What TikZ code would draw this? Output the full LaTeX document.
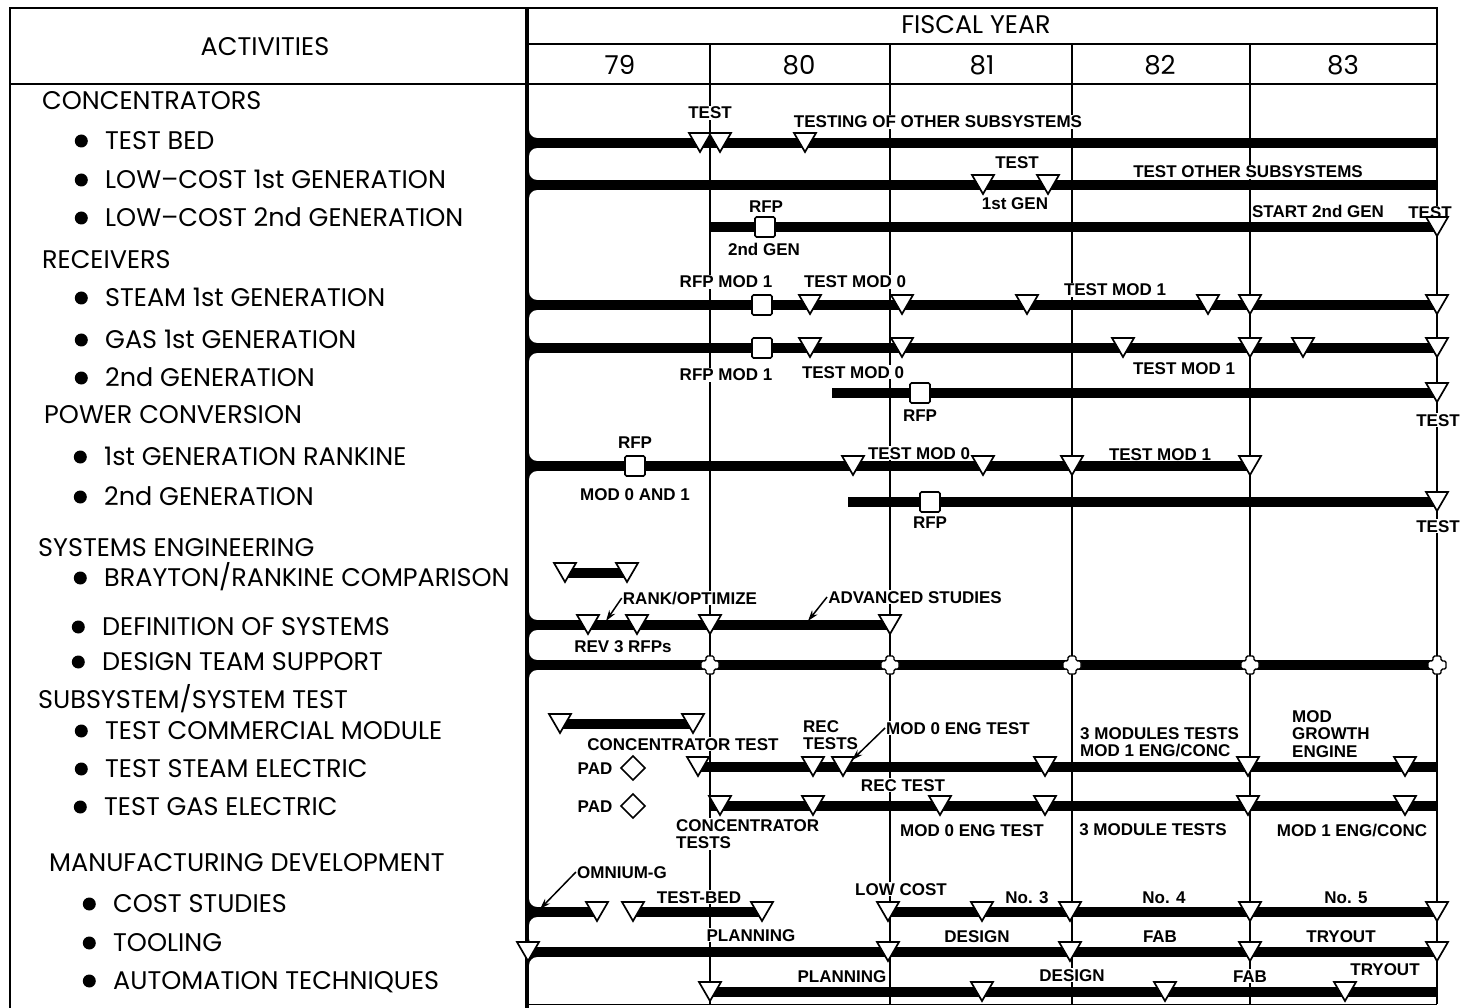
\documentclass[tikz,border=0pt]{standalone}
\usepackage{fontspec}
\setmainfont{Poppins}
\newfontfamily\lblfont{Liberation Sans}
\usepackage{tikz}
\usetikzlibrary{arrows.meta}

\begin{document}
\begin{tikzpicture}[x=1pt, y=-1pt,
      frame/.style={line width=1.4pt},
      spine/.style={line width=4pt},
      yearline/.style={line width=1.1pt},
      bar/.style={line width=10pt},
      head/.style={inner sep=0pt, font=\fontsize{25.5}{28}\selectfont},
      grp/.style={anchor=west, inner sep=0pt, text height=17.5pt, text depth=0pt,
                  font=\fontsize{25.5}{28}\selectfont},
      item/.style={grp,
                   label={[circle, fill, inner sep=0pt, minimum size=13pt, xshift=-17pt]left:{}}},
      lbl/.style={inner sep=1pt, fill=white, text height=12pt, text depth=0pt,
                  font=\lblfont\bfseries\fontsize{17}{18}\selectfont},
      mlbl/.style={inner sep=1pt, fill=white, anchor=west, align=left,
                   font=\lblfont\bfseries\fontsize{17}{17.5}\selectfont},
      arr/.style={-{Stealth[length=11pt, width=7pt]}, line width=1.5pt},
      tri/.pic={\filldraw[fill=white, line width=1.7pt] (-11,-10) -- (11,-10) -- (0,9) -- cycle;},
      sq/.pic={\filldraw[fill=white, line width=1.7pt, rounded corners=1.5pt] (-10,-10) rectangle (10,10);},
      dia/.pic={\draw[line width=1.6pt] (-12,0) -- (0,-12) -- (12,0) -- (0,12) -- cycle;},
      plusmk/.pic={\filldraw[fill=white, line width=1.4pt, rounded corners=1.5pt]
                   (-4,-9) -- (4,-9) -- (4,-4) -- (9,-4) -- (9,4) -- (4,4) -- (4,9)
                   -- (-4,9) -- (-4,4) -- (-9,4) -- (-9,-4) -- (-4,-4) -- cycle;},
      jn/.pic={\fill (0,-5) -- (0,-13) .. controls (0,-8.6) and (3.6,-5) .. (8,-5) -- cycle;
               \fill (0,5) -- (0,13) .. controls (0,8.6) and (3.6,5) .. (8,5) -- cycle;},
    ]
    \useasboundingbox (0,0) rectangle (1462,1008);

    \draw[frame] (10,1008) -- (10,8) -- (1437,8) -- (1437,1004);
    \draw[frame] (10,84) -- (1437,84);
    \draw[frame] (527,44) -- (1437,44);
    \draw[frame, line width=0.8pt] (527,1004) -- (1437,1004);
    \draw[yearline] (710,44) -- (710,1004);
    \draw[yearline] (890,44) -- (890,1004);
    \draw[yearline] (1072,44) -- (1072,1004);
    \draw[yearline] (1250,44) -- (1250,1004);
    \draw[spine] (527,8) -- (527,1008);

    \node[head] (activities) at (265,47)  {ACTIVITIES};
    \node[head] (fiscal)     at (976,25)  {FISCAL YEAR};
    \node[head, font=\fontsize{26}{28}\selectfont] (fy79) at (620,65)  {79};
    \node[head, font=\fontsize{26}{28}\selectfont] (fy80) at (799,65)  {80};
    \node[head, font=\fontsize{26}{28}\selectfont] (fy81) at (982,65)  {81};
    \node[head, font=\fontsize{26}{28}\selectfont] (fy82) at (1160,65) {82};
    \node[head, font=\fontsize{26}{28}\selectfont] (fy83) at (1343,65) {83};

    \node[grp]  (conc)      at (42,101)  {CONCENTRATORS};
    \node[item] (conc-bed)  at (105,141) {TEST BED};
    \node[item] (conc-lc1)  at (105,180) {LOW--COST 1st GENERATION};
    \node[item] (conc-lc2)  at (105,218) {LOW--COST 2nd GENERATION};
    \node[grp]  (rcv)       at (42,260)  {RECEIVERS};
    \node[item] (rcv-steam) at (105,298) {STEAM 1st GENERATION};
    \node[item] (rcv-gas)   at (105,340) {GAS 1st GENERATION};
    \node[item] (rcv-gen2)  at (105,378) {2nd GENERATION};
    \node[grp]  (pwr)       at (44,415)  {POWER CONVERSION};
    \node[item] (pwr-rank)  at (104,457) {1st GENERATION RANKINE};
    \node[item] (pwr-gen2)  at (104,497) {2nd GENERATION};
    \node[grp]  (sys)       at (38,548)  {SYSTEMS ENGINEERING};
    \node[item] (sys-cmp)   at (104,578) {BRAYTON/RANKINE COMPARISON};
    \node[item] (sys-def)   at (102,627) {DEFINITION OF SYSTEMS};
    \node[item] (sys-team)  at (102,662) {DESIGN TEAM SUPPORT};
    \node[grp]  (tst)       at (38,700)  {SUBSYSTEM/SYSTEM TEST};
    \node[item] (tst-mod)   at (105,731) {TEST COMMERCIAL MODULE};
    \node[item] (tst-steam) at (105,769) {TEST STEAM ELECTRIC};
    \node[item] (tst-gas)   at (104,807) {TEST GAS ELECTRIC};
    \node[grp]  (mfg)       at (49,863)  {MANUFACTURING DEVELOPMENT};
    \node[item] (mfg-cost)  at (113,904) {COST STUDIES};
    \node[item] (mfg-tool)  at (113,943) {TOOLING};
    \node[item] (mfg-auto)  at (113,981) {AUTOMATION TECHNIQUES};

    \node[lbl] (bed-test)   at (710,113)  {TEST};
    \node[lbl] (bed-other)  at (938,122)  {TESTING OF OTHER SUBSYSTEMS};
    \node[lbl] (lc1-test)   at (1017,163) {TEST};
    \node[lbl] (lc1-gen)    at (1015,204) {1st GEN};
    \node[lbl] (lc1-other)  at (1248,172) {TEST OTHER SUBSYSTEMS};
    \node[lbl] (lc2-rfp)    at (766,207)  {RFP};
    \node[lbl] (lc2-gen)    at (764,250)  {2nd GEN};
    \node[lbl] (lc2-start)  at (1318,212) {START 2nd GEN};
    \node[lbl] (lc2-test)   at (1430,213) {TEST};
    \node[lbl] (stm-rfp)    at (726,282)  {RFP MOD 1};
    \node[lbl] (stm-mod0)   at (855,282)  {TEST MOD 0};
    \node[lbl] (stm-mod1)   at (1115,290) {TEST MOD 1};
    \node[lbl] (gas-rfp)    at (726,375)  {RFP MOD 1};
    \node[lbl] (gas-mod0)   at (853,372)  {TEST MOD 0};
    \node[lbl] (gas-mod1)   at (1184,368) {TEST MOD 1};
    \node[lbl] (rg2-rfp)    at (920,415)  {RFP};
    \node[lbl] (rg2-test)   at (1438,420) {TEST};
    \node[lbl] (rnk-rfp)    at (635,442)  {RFP};
    \node[lbl] (rnk-mods)   at (635,494)  {MOD 0 AND 1};
    \node[lbl] (rnk-mod0)   at (919,453)  {TEST MOD 0};
    \node[lbl] (rnk-mod1)   at (1160,454) {TEST MOD 1};
    \node[lbl] (pg2-rfp)    at (930,522)  {RFP};
    \node[lbl] (pg2-test)   at (1438,526) {TEST};
    \node[lbl] (def-rank)   at (690,598)  {RANK/OPTIMIZE};
    \node[lbl] (def-adv)    at (915,597)  {ADVANCED STUDIES};
    \node[lbl] (def-rev)    at (623,646)  {REV 3 RFPs};
    \node[lbl] (com-conc)   at (683,744)  {CONCENTRATOR TEST};
    \node[mlbl] (stm-rec)   at (802,735)  {REC\\TESTS};
    \node[lbl] (stm-eng)    at (958,728)  {MOD 0 ENG TEST};
    \node[mlbl] (stm-three) at (1079,742) {3 MODULES TESTS\\MOD 1 ENG/CONC};
    \node[mlbl] (stm-grow)  at (1291,734) {MOD\\GROWTH\\ENGINE};
    \node[lbl, fill=none] (stm-pad) at (595,768) {PAD};
    \node[lbl] (ge-rec)     at (903,785)  {REC TEST};
    \node[mlbl] (ge-conc)   at (675,834)  {CONCENTRATOR\\TESTS};
    \node[lbl] (ge-eng)     at (972,830)  {MOD 0 ENG TEST};
    \node[lbl] (ge-three)   at (1153,829) {3 MODULE TESTS};
    \node[lbl] (ge-mod1)    at (1352,830) {MOD 1 ENG/CONC};
    \node[lbl, fill=none] (ge-pad) at (595,806) {PAD};
    \node[lbl] (cst-omn)    at (622,872)  {OMNIUM-G};
    \node[lbl] (cst-bed)    at (699,897)  {TEST-BED};
    \node[lbl] (cst-low)    at (901,889)  {LOW COST};
    \node[lbl] (cst-no3)    at (1027,897) {No. 3};
    \node[lbl] (cst-no4)    at (1164,897) {No. 4};
    \node[lbl] (cst-no5)    at (1346,897) {No. 5};
    \node[lbl] (tl-plan)    at (751,935)  {PLANNING};
    \node[lbl] (tl-design)  at (977,936)  {DESIGN};
    \node[lbl] (tl-fab)     at (1160,936) {FAB};
    \node[lbl] (tl-try)     at (1341,936) {TRYOUT};
    \node[lbl] (au-plan)    at (842,976)  {PLANNING};
    \node[lbl] (au-design)  at (1072,975) {DESIGN};
    \node[lbl] (au-fab)     at (1250,976) {FAB};
    \node[lbl] (au-try)     at (1385,969) {TRYOUT};

    \draw[bar] (527,143) -- (1437,143);
    \draw[bar] (527,185) -- (1437,185);
    \draw[bar] (710,227) -- (1437,227);
    \draw[bar] (527,305) -- (1437,305);
    \draw[bar] (527,348) -- (1437,348);
    \draw[bar] (832,393) -- (1437,393);
    \draw[bar] (527,466) -- (1250,466);
    \draw[bar] (848,502) -- (1437,502);
    \draw[bar] (565,573) -- (627,573);
    \draw[bar] (527,625) -- (890,625);
    \draw[bar] (527,665) -- (1437,665);
    \draw[bar] (560,724) -- (693,724);
    \draw[bar] (698,767) -- (1437,767);
    \draw[bar] (710,806) -- (1437,806);
    \draw[bar] (527,912) -- (597,912);
    \draw[bar] (633,912) -- (762,912);
    \draw[bar] (888,912) -- (1437,912);
    \draw[bar] (527,952) -- (1437,952);
    \draw[bar] (710,992) -- (1437,992);
    \path (529,143) pic{jn} (529,185) pic{jn} (529,305) pic{jn} (529,348) pic{jn} (529,466) pic{jn}
          (529,625) pic{jn} (529,665) pic{jn} (529,912) pic{jn} (529,952) pic{jn};

    \coordinate (rank-tip) at (606,621);
    \coordinate (adv-tip)  at (808,621);
    \coordinate (eng-tip)  at (852,760);
    \coordinate (omn-tip)  at (540,909);
    \draw[arr] (def-rank.west) -- (rank-tip);
    \draw[arr] (def-adv.west)  -- (adv-tip);
    \draw[arr] (stm-eng.west)  -- (eng-tip);
    \draw[arr] (cst-omn.west)  -- (omn-tip);

    \path (700,143) pic{tri} (720,143) pic{tri} (805,143) pic{tri};
    \path (983,185) pic{tri} (1048,185) pic{tri};
    \path (765,227) pic{sq} (1437,227) pic{tri};
    \path (762,305) pic{sq} (810,305) pic{tri} (902,305) pic{tri} (1027,305) pic{tri}
          (1208,305) pic{tri} (1250,305) pic{tri} (1437,305) pic{tri};
    \path (762,348) pic{sq} (810,348) pic{tri} (902,348) pic{tri} (1123,348) pic{tri}
          (1250,348) pic{tri} (1303,348) pic{tri} (1437,348) pic{tri};
    \path (920,393) pic{sq} (1437,393) pic{tri};
    \path (635,466) pic{sq} (853,466) pic{tri} (983,466) pic{tri} (1072,466) pic{tri} (1250,466) pic{tri};
    \path (930,502) pic{sq} (1437,502) pic{tri};
    \path (565,573) pic{tri} (627,573) pic{tri};
    \path (588,625) pic{tri} (637,625) pic{tri} (710,625) pic{tri} (890,625) pic{tri};
    \path (710,665) pic{plusmk} (890,665) pic{plusmk} (1072,665) pic{plusmk}
          (1250,665) pic{plusmk} (1437,665) pic{plusmk};
    \path (560,724) pic{tri} (693,724) pic{tri};
    \path (698,767) pic{tri} (813,767) pic{tri} (843,767) pic{tri} (1045,767) pic{tri}
          (1248,767) pic{tri} (1405,767) pic{tri};
    \path (720,806) pic{tri} (813,806) pic{tri} (940,806) pic{tri} (1045,806) pic{tri}
          (1248,806) pic{tri} (1405,806) pic{tri};
    \path (633,768) pic{dia} (633,806) pic{dia};
    \path (597,912) pic{tri} (633,912) pic{tri} (762,912) pic{tri} (888,912) pic{tri}
          (982,912) pic{tri} (1070,912) pic{tri} (1250,912) pic{tri} (1437,912) pic{tri};
    \path (528,952) pic{tri} (888,952) pic{tri} (1070,952) pic{tri} (1250,952) pic{tri} (1437,952) pic{tri};
    \path (710,992) pic{tri} (982,992) pic{tri} (1165,992) pic{tri} (1345,992) pic{tri};
  \end{tikzpicture}
\end{document}
